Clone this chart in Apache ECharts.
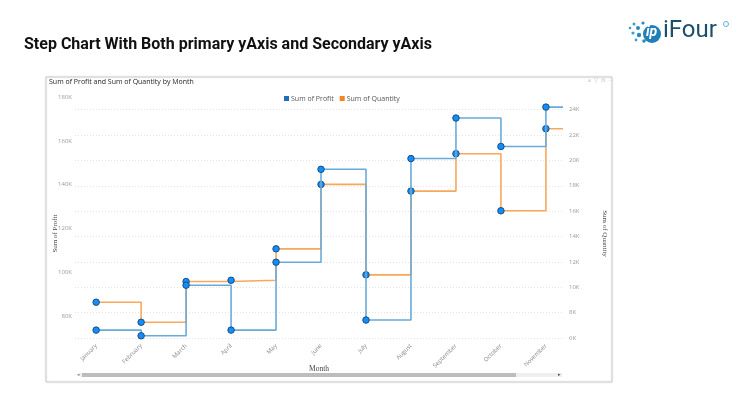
<!DOCTYPE html>
<html>
<head>
<meta charset="utf-8">
<script src="https://cdn.jsdelivr.net/npm/echarts@6/dist/echarts.min.js"></script>
<style>
html,body{margin:0;padding:0;background:#fff;}
#main{width:741px;height:393px;}
</style>
</head>
<body>
<div id="main"></div>
<script>
// ---- data ----
const months = ['January','February','March','April','May','June','July','August','September','October','November'];
const profit = [73600, 71000, 94100, 73600, 104600, 147000, 78200, 151900, 170400, 157400, 175400];
const quantity = [8820, 7240, 10450, 10550, 13030, 18110, 10980, 17580, 20530, 16030, 22500];
const profitTicks = [80000, 100000, 120000, 140000, 160000, 180000];
const quantityTicks = [6000, 8000, 10000, 12000, 14000, 16000, 18000, 20000, 22000, 24000];

// ---- axis config ----
const xMin = -0.47, xMax = 10.38;
function stepData(vals) {
  const d = vals.map((v, i) => [i, v]);
  // trailing horizontal step to end of plot (no marker)
  d.push({ value: [xMax, vals[vals.length - 1]], symbol: 'none' });
  return d;
}
const kfmt = v => (v / 1000) + 'K';
const marker = { color: '#118DFF', borderColor: '#1d4f7c', borderWidth: 1 };

const chart = echarts.init(document.getElementById('main'), null, { renderer: 'canvas' });
chart.setOption({
  animation: false,
  backgroundColor: '#ffffff',
  grid: { left: 75, right: 178, top: 97, bottom: 55, containLabel: false },
  legend: {
    top: 90, left: 279, itemWidth: 5, itemHeight: 5, itemGap: 6, icon: 'rect',
    textStyle: { fontSize: 7, color: '#555', fontFamily: 'Open Sans', padding: [0, 0, 0, -3] },
    data: [
      { name: 'Sum of Profit', itemStyle: { color: '#1f6fbf', borderWidth: 0 } },
      { name: 'Sum of Quantity', itemStyle: { color: '#f7841f', borderWidth: 0 } }
    ]
  },
  xAxis: {
    type: 'value', min: xMin, max: xMax,
    name: 'Month', nameLocation: 'middle', nameGap: 27, nameMoveOverlap: false,
    nameTextStyle: { fontFamily: 'Liberation Serif', fontSize: 7.5, color: '#444' },
    axisLine: { show: false }, axisTick: { show: false }, splitLine: { show: false },
    axisLabel: {
      customValues: months.map((m, i) => i),
      formatter: v => months[Math.round(v)] || '',
      rotate: 45, fontSize: 6, color: '#8a8a8a', fontFamily: 'Open Sans', margin: 7
    }
  },
  yAxis: [
    {
      type: 'value', position: 'left', min: 70000, max: 180000,
      name: 'Sum of Profit', nameLocation: 'middle', nameGap: 16, nameMoveOverlap: false,
      nameTextStyle: { fontFamily: 'Liberation Serif', fontSize: 7, color: '#444', padding: [0, 32, 0, 0] },
      axisLine: { show: false }, axisTick: { show: false, customValues: profitTicks }, splitLine: { show: false },
      axisLabel: { customValues: profitTicks, formatter: kfmt, fontSize: 6, color: '#9a9a9a', fontFamily: 'Open Sans', margin: 3 }
    },
    {
      type: 'value', position: 'right', min: 6000, max: 25000,
      name: 'Sum of Quantity', nameLocation: 'middle', nameGap: 38, nameRotate: -90, nameMoveOverlap: false,
      nameTextStyle: { fontFamily: 'Liberation Serif', fontSize: 7, color: '#444', padding: [0, 0, 0, 32] },
      axisLine: { show: false },
      axisTick: { show: false, customValues: quantityTicks },
      splitLine: { show: true, lineStyle: { color: '#e2e2e2', type: [1, 2], width: 1 } },
      axisLabel: { customValues: quantityTicks, formatter: kfmt, fontSize: 6, color: '#9a9a9a', fontFamily: 'Open Sans', margin: 6 }
    }
  ],
  series: [
    {
      name: 'Sum of Profit', type: 'line', step: 'end', yAxisIndex: 0,
      data: stepData(profit),
      symbol: 'circle', symbolSize: 6.5,
      lineStyle: { color: '#6aaad9', width: 1.6 },
      itemStyle: marker, z: 3
    },
    {
      name: 'Sum of Quantity', type: 'line', step: 'end', yAxisIndex: 1,
      data: stepData(quantity),
      symbol: 'circle', symbolSize: 6.5,
      lineStyle: { color: '#f8a75c', width: 1.6 },
      itemStyle: marker, z: 2
    }
  ],
  graphic: [
    // page title
    { type: 'text', left: 24, top: 37, style: { text: 'Step Chart With Both primary yAxis and Secondary yAxis', font: 'bold 16px Roboto', fill: '#111' } },
    // logo
    { type: 'circle', shape: { cx: 630, cy: 28, r: 1.3 }, style: { fill: '#3b9dd0' } },
    { type: 'circle', shape: { cx: 634, cy: 24, r: 1.5 }, style: { fill: '#3b9dd0' } },
    { type: 'circle', shape: { cx: 638, cy: 28, r: 2 }, style: { fill: '#2b88c0' } },
    { type: 'circle', shape: { cx: 633, cy: 33, r: 1.6 }, style: { fill: '#3b9dd0' } },
    { type: 'circle', shape: { cx: 639, cy: 35, r: 2.2 }, style: { fill: '#2b88c0' } },
    { type: 'circle', shape: { cx: 636, cy: 40, r: 1.4 }, style: { fill: '#3b9dd0' } },
    { type: 'circle', shape: { cx: 643, cy: 23, r: 1.6 }, style: { fill: '#2b88c0' } },
    { type: 'circle', shape: { cx: 644, cy: 41, r: 1.8 }, style: { fill: '#2b88c0' } },
    { type: 'circle', shape: { cx: 652, cy: 34, r: 9 }, style: { fill: '#1f7fb6' } },
    { type: 'text', left: 646, top: 25, style: { text: 'ip', font: 'italic bold 14px Roboto', fill: '#ffffff' } },
    { type: 'text', left: 663, top: 19, style: { text: 'iFour', font: '24px Roboto', fill: '#1b4f6a' } },
    { type: 'circle', shape: { cx: 726, cy: 24, r: 2.5 }, style: { fill: 'none', stroke: '#3b9dd0', lineWidth: 0.8 } },
    // card
    { type: 'rect', shape: { x: 46, y: 77, width: 566, height: 305 }, style: { fill: 'none', stroke: '#cfcfcf', lineWidth: 1, shadowBlur: 2, shadowColor: 'rgba(0,0,0,0.15)' }, z: -1 },
    { type: 'text', left: 49, top: 78, style: { text: 'Sum of Profit and Sum of Quantity by Month', font: '7px "Open Sans"', fill: '#252423' } },
    { type: 'text', left: 588, top: 78, style: { text: '⌀  ▽  ⊡  ⋯', font: '5px "DejaVu Sans"', fill: '#b8b8b8' } },
    // scrollbar
    { type: 'rect', shape: { x: 80, y: 373, width: 482, height: 4 }, style: { fill: '#efefef' } },
    { type: 'rect', shape: { x: 82, y: 373, width: 434, height: 4 }, style: { fill: '#bdbdbd' } },
    { type: 'text', left: 77, top: 372, style: { text: '◂', font: '5px "DejaVu Sans"', fill: '#888' } },
    { type: 'text', left: 558, top: 372, style: { text: '▸', font: '5px "DejaVu Sans"', fill: '#555' } }
  ]
});
</script>
</body>
</html>
